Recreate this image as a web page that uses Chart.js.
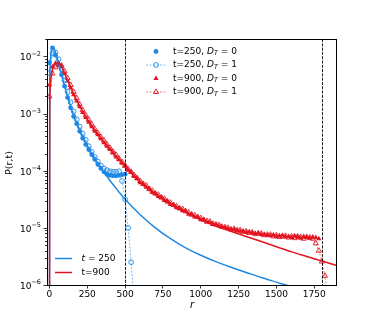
<!DOCTYPE html>
<html><head><meta charset="utf-8">
<script src="https://cdn.jsdelivr.net/npm/chart.js@4/dist/chart.umd.min.js"></script>
<style>html,body{margin:0;padding:0;background:#fff}canvas{display:block}</style>
</head><body>
<canvas id="c" width="374" height="327" style="width:374px;height:327px"></canvas>
<script>
// ---------- DATA (values are log10 P(r,t)) ----------
// pairs: [r, log10 P]
const theory_t250 = [[0,-9],[2,-2.45],[5,-2.15],[10,-1.95],[15,-1.87],[20,-1.84],[25,-1.84],[30,-1.86],[40,-1.93],[50,-2.02],[60,-2.12],[80,-2.32],[100,-2.52],[120,-2.71],[140,-2.88],[160,-3.03],[180,-3.17],[200,-3.29],[250,-3.56],[300,-3.79],[350,-3.99],[400,-4.17],[450,-4.34],[500,-4.50],[600,-4.77],[700,-5.00],[800,-5.19],[900,-5.35],[1000,-5.48],[1100,-5.59],[1200,-5.69],[1300,-5.78],[1400,-5.87],[1500,-5.95],[1600,-6.03],[1700,-6.10],[1800,-6.17],[1900,-6.24]];
const theory_t900 = [[0,-9],[2,-2.9],[5,-2.55],[10,-2.38],[20,-2.22],[30,-2.15],[40,-2.12],[50,-2.11],[60,-2.12],[80,-2.18],[100,-2.30],[120,-2.42],[140,-2.54],[160,-2.66],[180,-2.77],[200,-2.87],[250,-3.10],[300,-3.30],[350,-3.47],[400,-3.63],[450,-3.78],[500,-3.93],[600,-4.20],[700,-4.41],[800,-4.58],[900,-4.72],[1000,-4.85],[1100,-4.96],[1200,-5.06],[1300,-5.15],[1400,-5.24],[1500,-5.33],[1600,-5.42],[1700,-5.50],[1800,-5.58],[1900,-5.66]];
const sim_t250_DT0 = [[0,-2.11],[20,-1.85],[40,-1.98],[60,-2.15],[80,-2.32],[100,-2.52],[120,-2.72],[140,-2.90],[160,-3.05],[180,-3.18],[200,-3.31],[220,-3.43],[240,-3.54],[260,-3.63],[280,-3.72],[300,-3.80],[320,-3.89],[340,-3.96],[360,-4.02],[380,-4.06],[400,-4.08],[420,-4.09],[440,-4.09],[460,-4.08],[480,-4.07],[500,-4.06]];
const sim_t250_DT1 = [[0,-2.29],[20,-1.95],[40,-1.93],[60,-2.05],[80,-2.22],[100,-2.42],[120,-2.62],[140,-2.80],[160,-2.96],[180,-3.10],[200,-3.23],[220,-3.35],[240,-3.46],[260,-3.57],[280,-3.67],[300,-3.76],[320,-3.84],[340,-3.91],[360,-3.96],[380,-3.99],[400,-4.01],[420,-4.02],[440,-4.02],[460,-4.01],[480,-4.18],[500,-4.50],[520,-5.00],[540,-5.60],[560,-6.30]];
const sim_t900_DT0 = [[0,-2.50],[20,-2.18],[40,-2.12],[60,-2.11],[80,-2.17],[100,-2.30],[120,-2.43],[140,-2.55],[160,-2.67],[180,-2.78],[200,-2.88],[220,-2.98],[240,-3.07],[260,-3.15],[280,-3.23],[300,-3.31],[320,-3.37],[340,-3.44],[360,-3.51],[380,-3.57],[400,-3.63],[420,-3.69],[440,-3.76],[460,-3.81],[480,-3.87],[500,-3.92],[520,-3.99],[540,-4.03],[560,-4.10],[580,-4.14],[600,-4.21],[620,-4.24],[640,-4.29],[660,-4.32],[680,-4.38],[700,-4.40],[720,-4.45],[740,-4.47],[760,-4.52],[780,-4.54],[800,-4.59],[820,-4.60],[840,-4.65],[860,-4.66],[880,-4.70],[900,-4.71],[920,-4.76],[940,-4.76],[960,-4.81],[980,-4.82],[1000,-4.86],[1020,-4.86],[1040,-4.90],[1060,-4.91],[1080,-4.94],[1100,-4.95],[1120,-4.97],[1140,-4.99],[1160,-5.00],[1180,-5.02],[1200,-5.03],[1220,-5.03],[1240,-5.05],[1260,-5.06],[1280,-5.06],[1300,-5.08],[1320,-5.07],[1340,-5.09],[1360,-5.10],[1380,-5.09],[1400,-5.12],[1420,-5.11],[1440,-5.13],[1460,-5.14],[1480,-5.12],[1500,-5.15],[1520,-5.14],[1540,-5.13],[1560,-5.16],[1580,-5.15],[1600,-5.17],[1620,-5.14],[1640,-5.16],[1660,-5.18],[1680,-5.15],[1700,-5.17],[1720,-5.18],[1740,-5.16],[1760,-5.17],[1780,-5.19]];
const sim_t900_DT1 = [[0,-2.70],[20,-2.30],[40,-2.19],[60,-2.14],[80,-2.16],[100,-2.26],[120,-2.38],[140,-2.50],[160,-2.62],[180,-2.73],[200,-2.84],[220,-2.94],[240,-3.03],[260,-3.11],[280,-3.19],[300,-3.27],[320,-3.34],[340,-3.41],[360,-3.47],[380,-3.54],[400,-3.60],[420,-3.67],[440,-3.72],[460,-3.79],[480,-3.85],[500,-3.91],[520,-3.97],[540,-4.02],[560,-4.08],[580,-4.13],[600,-4.18],[620,-4.23],[640,-4.26],[660,-4.32],[680,-4.35],[700,-4.40],[720,-4.42],[740,-4.47],[760,-4.49],[780,-4.54],[800,-4.56],[820,-4.60],[840,-4.62],[860,-4.66],[880,-4.67],[900,-4.71],[920,-4.73],[940,-4.77],[960,-4.78],[980,-4.81],[1000,-4.83],[1020,-4.86],[1040,-4.88],[1060,-4.89],[1080,-4.93],[1100,-4.94],[1120,-4.95],[1140,-4.98],[1160,-4.99],[1180,-5.00],[1200,-5.03],[1220,-5.02],[1240,-5.04],[1260,-5.04],[1280,-5.07],[1300,-5.06],[1320,-5.09],[1340,-5.08],[1360,-5.11],[1380,-5.10],[1400,-5.10],[1420,-5.13],[1440,-5.12],[1460,-5.12],[1480,-5.15],[1500,-5.13],[1520,-5.16],[1540,-5.15],[1560,-5.14],[1580,-5.17],[1600,-5.15],[1620,-5.18],[1640,-5.15],[1660,-5.16],[1680,-5.19],[1700,-5.16],[1720,-5.17],[1740,-5.19],[1760,-5.27],[1780,-5.40],[1800,-5.59],[1820,-5.84],[1840,-6.20]];
const xTickValues = [0,250,500,750,1000,1250,1500,1750];
const yMajorExponents = [-6,-5,-4,-3,-2];
const wallPositions = [500,1800];

// ---------- STYLE ----------
const BLUE = '#1e88e5', BLUE_A = 'rgba(30,136,229,0.75)';
const RED = '#e3141f', RED_A = 'rgba(227,20,31,0.7)';
const FONT = '"DejaVu Sans", sans-serif';
const toPts = arr => arr.map(([r, lp]) => ({x: r, y: Math.pow(10, lp)}));

const decor = {
  id: 'decor',
  afterDatasetsDraw(chart) {
    const {ctx, chartArea: a, scales: {x, y}} = chart;
    ctx.save();
    ctx.strokeStyle = '#000'; ctx.lineWidth = 0.9; ctx.setLineDash([3, 1.3]);
    wallPositions.forEach(w => {
      const px = Math.round(x.getPixelForValue(w)) + 0.5;
      ctx.beginPath(); ctx.moveTo(px, a.top); ctx.lineTo(px, a.bottom); ctx.stroke();
    });
    ctx.setLineDash([]);
    ctx.restore();
  },
  afterDraw(chart) {
    const {ctx, chartArea: a, scales: {x, y}} = chart;
    ctx.save();
    ctx.strokeStyle = '#000'; ctx.lineWidth = 1;
    ctx.strokeRect(a.left + 0.5, a.top + 0.5, a.right - a.left - 1, a.bottom - a.top);
    ctx.lineWidth = 0.8;
    yMajorExponents.forEach(k => {
      for (let m = 1; m <= 9; m++) {
        const v = m * Math.pow(10, k);
        if (v > y.max || v < y.min * 0.999) continue;
        const py = Math.round(y.getPixelForValue(v)) + 0.5;
        const len = m === 1 ? 3.5 : 2;
        ctx.beginPath(); ctx.moveTo(a.left, py); ctx.lineTo(a.left - len, py); ctx.stroke();
      }
      const py = y.getPixelForValue(Math.pow(10, k));
      ctx.fillStyle = '#000'; ctx.textBaseline = 'middle'; ctx.textAlign = 'left';
      ctx.font = '6.5px ' + FONT;
      const sup = '\u2212' + Math.abs(k);
      const sw = ctx.measureText(sup).width;
      ctx.font = '9px ' + FONT;
      const bw = ctx.measureText('10').width;
      const right = a.left - 6;
      ctx.fillText('10', right - sw - bw, py + 1.5);
      ctx.font = '6.5px ' + FONT;
      ctx.fillText(sup, right - sw, py - 2.5);
    });
    ctx.fillStyle = '#000'; ctx.textAlign = 'center'; ctx.textBaseline = 'middle';
    ctx.font = 'italic 10px ' + FONT;
    ctx.fillText('r', (a.left + a.right) / 2, 305);
    ctx.save(); ctx.translate(10, 163); ctx.rotate(-Math.PI / 2);
    ctx.font = '9.5px ' + FONT; ctx.fillText('P(r,t)', 0, 0); ctx.restore();

    const rich = (x0, y0, parts) => {
      let cx = x0; ctx.textAlign = 'left'; ctx.textBaseline = 'middle';
      parts.forEach(([t, f, dy]) => { ctx.font = f; ctx.fillText(t, cx, y0 + (dy || 0)); cx += ctx.measureText(t).width; });
    };
    const N = '9px ' + FONT, I = 'italic 9px ' + FONT, S = 'italic 6.5px ' + FONT;
    const L1 = [
      {y: 51.5, color: BLUE, style: 'circle', filled: true, line: false, t: 't=250, '},
      {y: 65, color: BLUE, style: 'circle', filled: false, line: true, t: 't=250, '},
      {y: 78.5, color: RED, style: 'triangle', filled: true, line: false, t: 't=900, '},
      {y: 92, color: RED, style: 'triangle', filled: false, line: true, t: 't=900, '}
    ];
    L1.forEach((e, i) => {
      if (e.line) {
        ctx.strokeStyle = e.color === BLUE ? BLUE_A : RED_A; ctx.lineWidth = 0.8; ctx.setLineDash([2, 1.5]);
        ctx.beginPath(); ctx.moveTo(146, e.y); ctx.lineTo(166, e.y); ctx.stroke(); ctx.setLineDash([]);
      }
      ctx.fillStyle = e.filled ? e.color : 'rgba(0,0,0,0)';
      ctx.strokeStyle = e.color; ctx.lineWidth = e.filled ? 0 : 0.9;
      Chart.helpers.drawPoint(ctx, {pointStyle: e.style, radius: e.style === 'triangle' ? 3.0 : 2.4, rotation: 0, borderWidth: e.filled ? 0 : 0.9}, 156, e.y);
      ctx.fillStyle = '#000';
      rich(173, e.y, [[e.t, N], ['D', I], ['T', S, 2], [' = ' + (i % 2 === 0 ? '0' : '1'), N]]);
    });
    ctx.lineWidth = 1.5;
    ctx.strokeStyle = BLUE; ctx.beginPath(); ctx.moveTo(55, 258.5); ctx.lineTo(72, 258.5); ctx.stroke();
    ctx.strokeStyle = RED; ctx.beginPath(); ctx.moveTo(55, 272.5); ctx.lineTo(72, 272.5); ctx.stroke();
    ctx.fillStyle = '#000';
    rich(81.5, 258.5, [['t', I], [' = 250', N]]);
    rich(81.5, 272.5, [['t=900', N]]);
    ctx.restore();
  }
};

new Chart(document.getElementById('c'), {
  type: 'line',
  data: {
    datasets: [
      {label: 't=900', data: toPts(theory_t900), borderColor: RED, borderWidth: 1.5, pointRadius: 0, cubicInterpolationMode: 'monotone', order: 0},
      {label: 't = 250', data: toPts(theory_t250), borderColor: BLUE, borderWidth: 1.5, pointRadius: 0, cubicInterpolationMode: 'monotone', order: 1},
      {label: 't=250, D_T=1', data: toPts(sim_t250_DT1), showLine: true, borderColor: BLUE_A, borderWidth: 0.8, borderDash: [2, 1.5],
        pointStyle: 'circle', pointRadius: 2.4, pointBackgroundColor: 'rgba(0,0,0,0)', pointBorderColor: BLUE, pointBorderWidth: 0.9, order: 2},
      {label: 't=900, D_T=1', data: toPts(sim_t900_DT1), showLine: true, borderColor: RED_A, borderWidth: 0.8, borderDash: [2, 1.5],
        pointStyle: 'triangle', pointRadius: 3.0, pointBackgroundColor: 'rgba(0,0,0,0)', pointBorderColor: RED, pointBorderWidth: 0.9, order: 2},
      {label: 't=250, D_T=0', data: toPts(sim_t250_DT0), showLine: false,
        pointStyle: 'circle', pointRadius: 2.4, pointBackgroundColor: BLUE, pointBorderWidth: 0, order: 3},
      {label: 't=900, D_T=0', data: toPts(sim_t900_DT0), showLine: false,
        pointStyle: 'triangle', pointRadius: 3.0, pointBackgroundColor: RED, pointBorderWidth: 0, order: 3}
    ]
  },
  options: {
    responsive: false, animation: false, devicePixelRatio: 1,
    layout: {padding: {left: 0, top: 39, right: 37, bottom: 0}},
    plugins: {legend: {display: false}, tooltip: {enabled: false}},
    elements: {line: {tension: 0}},
    scales: {
      x: {
        type: 'linear', min: -16, max: 1900,
        afterBuildTicks: s => { s.ticks = xTickValues.map(v => ({value: v})); },
        afterFit: s => { s.height = 42; },
        ticks: {color: '#000', font: {family: '"DejaVu Sans"', size: 9}, padding: 1, maxRotation: 0, autoSkip: false,
          callback: v => String(v)},
        grid: {display: true, drawOnChartArea: false, drawTicks: true, tickLength: 3.5, color: '#000', lineWidth: 0.8},
        border: {display: false}
      },
      y: {
        type: 'logarithmic', min: 1e-6, max: 0.0202,
        afterFit: s => { s.width = 47; },
        ticks: {display: false},
        grid: {display: false},
        border: {display: false}
      }
    }
  },
  plugins: [decor]
});
</script>
</body></html>
